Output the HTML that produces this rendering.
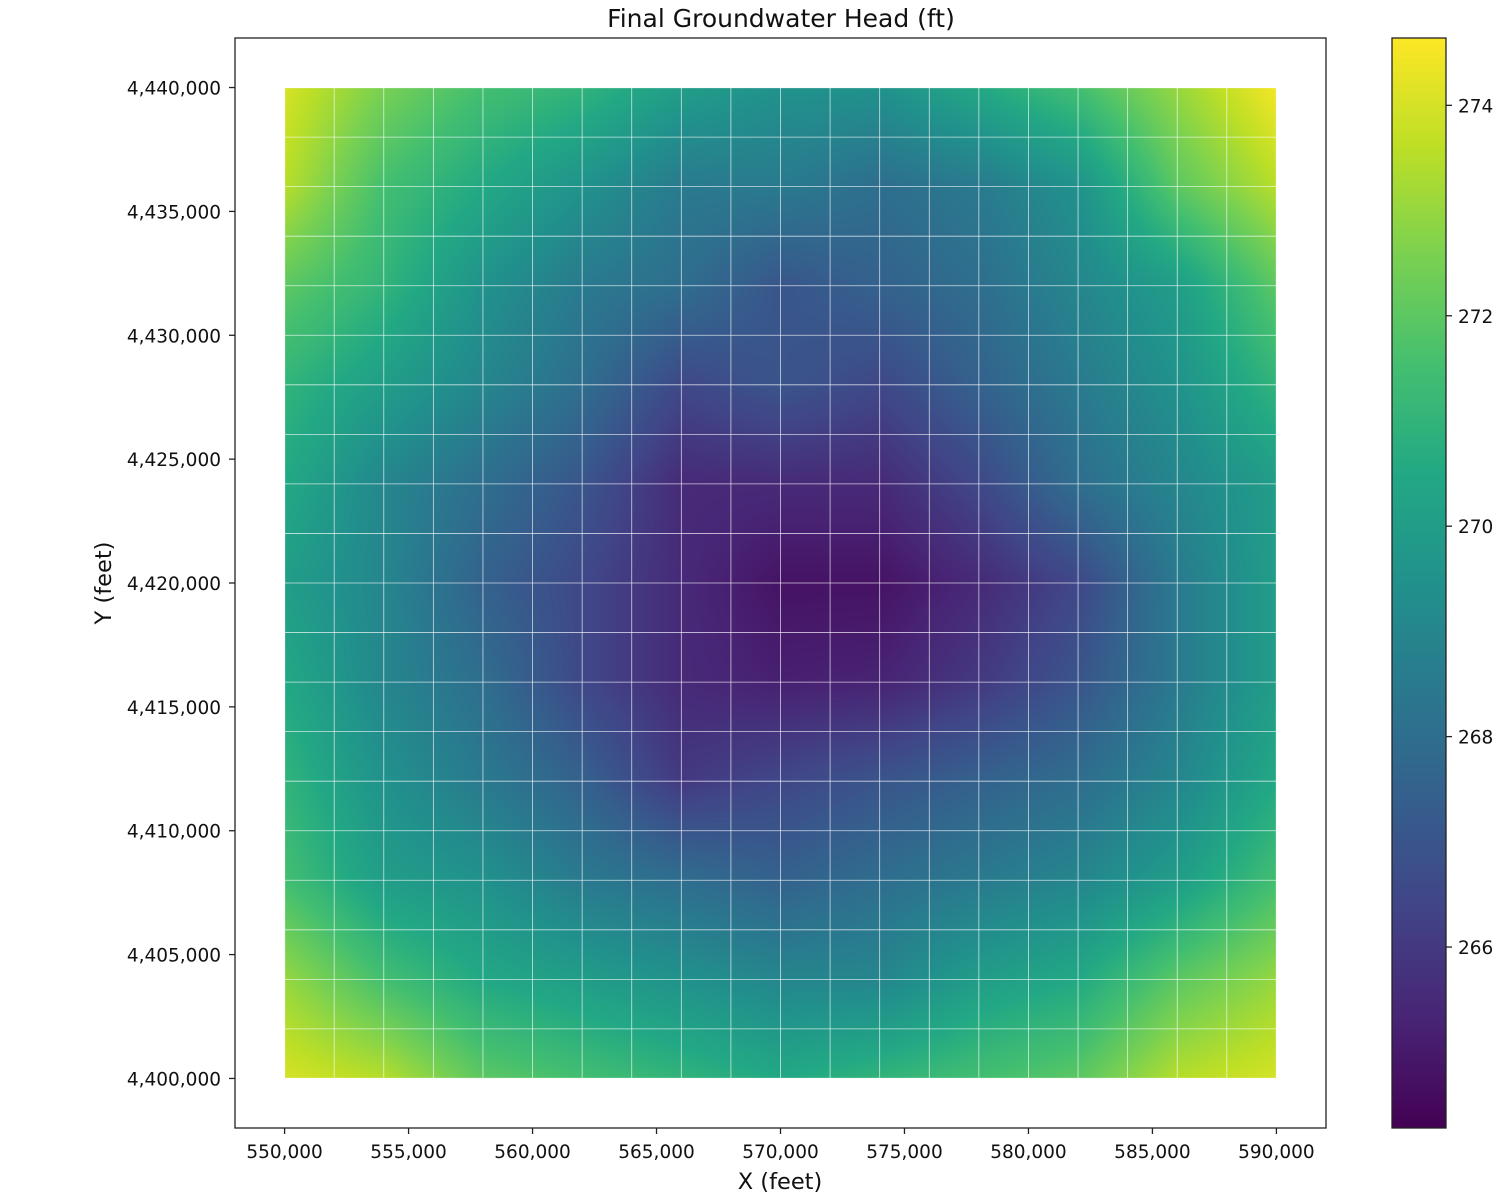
<!DOCTYPE html>
<html><head><meta charset="utf-8"><style>
body{margin:0;background:#fff;font-family:"Liberation Sans","DejaVu Sans",sans-serif;}
#wrap{position:relative;width:1500px;height:1200px;overflow:hidden;}
canvas,svg{position:absolute;left:0;top:0;}
svg text{font-family:"DejaVu Sans","Liberation Sans",sans-serif;fill:#111;}
</style></head><body>
<div id="wrap">
<canvas id="cv" width="1500" height="1200"></canvas>
<svg id="sv" width="1500" height="1200"></svg>
</div>
<script>
const xNodes=[550000,554000,558000,562000,566000,570000,574000,578000,582000,586000,590000];
const yNodes=[4440000,4436000,4432000,4428000,4424000,4420000,4416000,4412000,4408000,4404000,4400000];
const headRow0=[274,272.5,271.5,271,270,269.5,269.5,270.5,271.5,273,274.5];
const headRow1=[273.5,271.5,270.5,269.5,268.5,268.5,268,268.5,269.5,272,273.5];
const headRow2=[272,271,269.5,268.5,268,267,267.5,268,269,270,272];
const headRow3=[271,270,269,268,266.5,267,266.5,267.5,268.5,269.5,271];
const headRow4=[270.5,269,268,267,265.5,265.5,265.5,266.5,268,269,270];
const headRow5=[270,269,267.5,266.5,265.5,264.8,264.8,265.5,266.5,268.5,270];
const headRow6=[270.5,269,268,266.5,265.5,265.2,265.3,266,267,268.5,270];
const headRow7=[271,269.5,268.5,267.5,266,266.5,267,267.5,268,269,270.5];
const headRow8=[271.5,270,269.5,268.5,268,267.5,268,268.5,269,270,271.5];
const headRow9=[273,271.5,270.5,270,269.5,269,269,270,270.5,272,273];
const headRow10=[274,273.5,272,271.5,271,270.5,271,271.5,272,273.5,274];
const heads=[headRow0,headRow1,headRow2,headRow3,headRow4,headRow5,headRow6,headRow7,headRow8,headRow9,headRow10];
const xTicks=[550000,555000,560000,565000,570000,575000,580000,585000,590000];
const yTicks=[4400000,4405000,4410000,4415000,4420000,4425000,4430000,4435000,4440000];
const cbTicks=[266,268,270,272,274];
const vmin=264.28,vmax=274.64;

const AX={l:235,r:1326,t:38,b:1128};
const xMin=548000,xMax=592000,yMin=4398000,yMax=4442000;
const sx=v=>AX.l+(v-xMin)/(xMax-xMin)*(AX.r-AX.l);
const sy=v=>AX.b-(v-yMin)/(yMax-yMin)*(AX.b-AX.t);
const CB={l:1392,r:1446,t:38,b:1128};
const cy=v=>CB.b-(v-vmin)/(vmax-vmin)*(CB.b-CB.t);

const vir=[[68,1,84],[72,36,117],[65,68,135],[53,95,141],[42,120,142],[33,145,140],[34,168,132],[68,191,112],[122,209,81],[189,223,38],[253,231,37]];
function cmap(v){let t=Math.max(0,Math.min(1,(v-vmin)/(vmax-vmin)))*10;let i=Math.min(9,Math.floor(t));let f=t-i;
return vir[i].map((c,k)=>Math.round(c+(vir[i+1][k]-c)*f));}

const ctx=document.getElementById('cv').getContext('2d');
const x0=Math.round(sx(xNodes[0])),x1=Math.round(sx(xNodes[xNodes.length-1]));
const y0=Math.round(sy(yNodes[0])),y1=Math.round(sy(yNodes[yNodes.length-1]));
const img=ctx.createImageData(x1-x0,y1-y0);
const nx=xNodes.length-1,ny=yNodes.length-1;
for(let py=0;py<y1-y0;py++){const fy=py/(y1-y0)*ny;const j=Math.min(ny-1,Math.floor(fy));const ty=fy-j;
for(let px=0;px<x1-x0;px++){const fx=px/(x1-x0)*nx;const i=Math.min(nx-1,Math.floor(fx));const tx=fx-i;
const v=(heads[j][i]*(1-tx)+heads[j][i+1]*tx)*(1-ty)+(heads[j+1][i]*(1-tx)+heads[j+1][i+1]*tx)*ty;
const c=cmap(v);const o=(py*(x1-x0)+px)*4;img.data[o]=c[0];img.data[o+1]=c[1];img.data[o+2]=c[2];img.data[o+3]=255;}}
ctx.putImageData(img,x0,y0);
for(let py=CB.t;py<CB.b;py++){const c=cmap(vmin+(CB.b-py-0.5)/(CB.b-CB.t)*(vmax-vmin));ctx.fillStyle=`rgb(${c[0]},${c[1]},${c[2]})`;ctx.fillRect(CB.l,py,CB.r-CB.l,1);}

const NS='http://www.w3.org/2000/svg';const sv=document.getElementById('sv');
function mk(tag,attrs,text){const e=document.createElementNS(NS,tag);for(const k in attrs)e.setAttribute(k,attrs[k]);if(text!==undefined)e.textContent=text;sv.appendChild(e);return e;}
for(let g=550000;g<=590000;g+=2000){const e=mk('line',{x1:sx(g),x2:sx(g),y1:y0,y2:y1,stroke:'#fff','stroke-opacity':0.75,'stroke-width':0.8});

}
for(let g=4400000;g<=4440000;g+=2000){const e=mk('line',{x1:x0,x2:x1,y1:sy(g),y2:sy(g),stroke:'#fff','stroke-opacity':0.75,'stroke-width':0.8});

}
let f=mk('rect',{x:AX.l,y:AX.t,width:AX.r-AX.l,height:AX.b-AX.t,fill:'none',stroke:'#222','stroke-width':1.3});


f=mk('rect',{x:CB.l,y:CB.t,width:CB.r-CB.l,height:CB.b-CB.t,fill:'none',stroke:'#222','stroke-width':1.3});


const fmt=v=>v.toLocaleString('en-US');
xTicks.forEach(v=>{mk('line',{x1:sx(v),x2:sx(v),y1:AX.b,y2:AX.b+6,stroke:'#222','stroke-width':1.3});
const t=mk('text',{x:sx(v),y:AX.b+30,'text-anchor':'middle',style:'font-size:18.5px'},fmt(v));

});
yTicks.forEach(v=>{mk('line',{x1:AX.l-6,x2:AX.l,y1:sy(v),y2:sy(v),stroke:'#222','stroke-width':1.3});
const t=mk('text',{x:AX.l-14,y:sy(v)+7,'text-anchor':'end',style:'font-size:18.5px'},fmt(v));

});
cbTicks.forEach(v=>{mk('line',{x1:CB.r,x2:CB.r+6,y1:cy(v),y2:cy(v),stroke:'#222','stroke-width':1.3});
const t=mk('text',{x:CB.r+12,y:cy(v)+7,style:'font-size:18.5px'},String(v));

});
let t=mk('text',{x:781,y:27,'text-anchor':'middle',style:'font-size:25px'},'Final Groundwater Head (ft)');


t=mk('text',{x:780,y:1189,'text-anchor':'middle',style:'font-size:22.5px'},'X (feet)');


t=mk('text',{x:111,y:583,'text-anchor':'middle',style:'font-size:22.5px',transform:'rotate(-90 111 583)'},'Y (feet)');


</script>
</body></html>
